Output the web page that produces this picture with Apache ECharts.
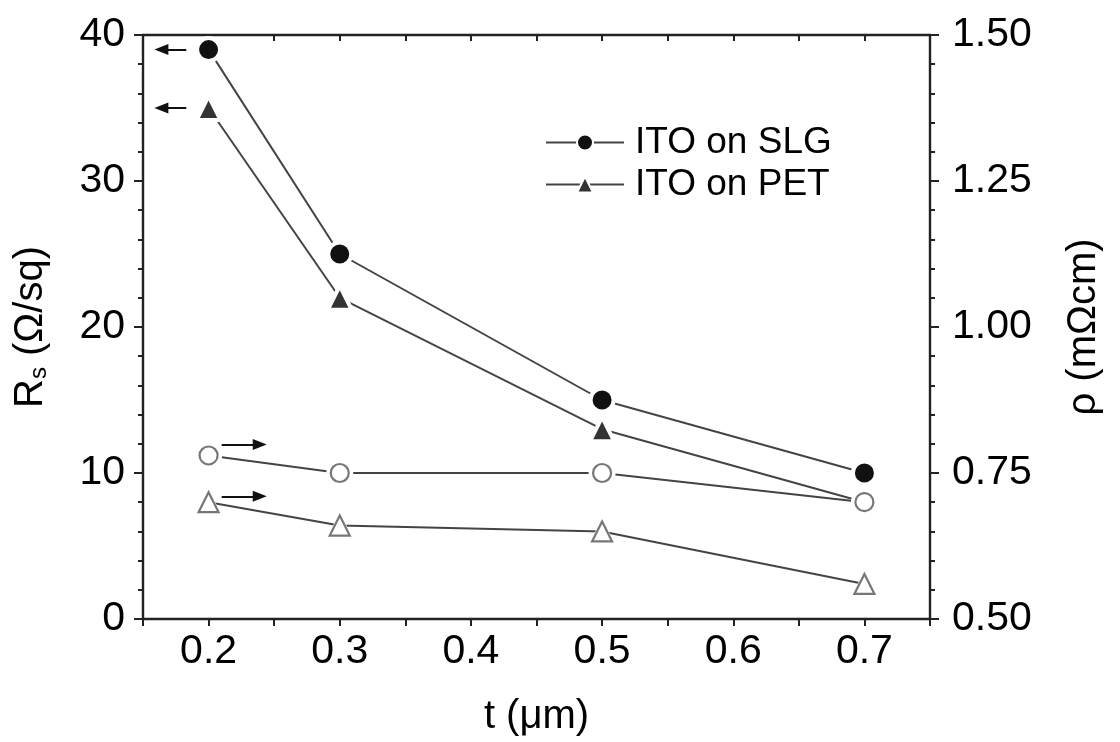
<!DOCTYPE html>
<html>
<head>
<meta charset="utf-8">
<script src="https://cdn.jsdelivr.net/npm/echarts@6/dist/echarts.min.js"></script>
<style>
html,body{margin:0;padding:0;background:#fff;}
#chart{width:1120px;height:742px;}
</style>
</head>
<body>
<div id="chart"></div>
<script>
// ---- data ----
const thickness = [0.2, 0.3, 0.5, 0.7];          // t (µm)
const rsSLG = [39, 25, 15, 10];                   // Rs, ITO on SLG (left axis)
const rsPET = [35, 22, 13, 8];                    // Rs, ITO on PET (left axis)
const rhoSLG = [0.78, 0.75, 0.75, 0.70];          // rho, ITO on SLG (right axis)
const rhoPET = [0.70, 0.66, 0.65, 0.56];          // rho, ITO on PET (right axis)
const seriesNames = ['ITO on SLG', 'ITO on PET'];
const xTickLabels = ['0.2', '0.3', '0.4', '0.5', '0.6', '0.7'];
const leftTickLabels = ['0', '10', '20', '30', '40'];
const rightTickLabels = ['0.50', '0.75', '1.00', '1.25', '1.50'];
// annotation arrows (data coordinates): [from, to]
const arrowLeft1 = [[0.183, 39], [0.164, 39]];
const arrowLeft2 = [[0.183, 35], [0.164, 35]];
const arrowRight1 = [[0.210, 0.799], [0.239, 0.799]];
const arrowRight2 = [[0.210, 0.71], [0.239, 0.71]];

const FONT = '"Liberation Sans", Arial, sans-serif';
const TXT = '#000';
const LINE = '#444';

function zip(xs, ys) { return xs.map((x, i) => [x, ys[i]]); }
function arrowLine(a) {
  return [{ coord: a[0], symbol: 'none' }, { coord: a[1], symbol: 'triangle' }];
}

const chart = echarts.init(document.getElementById('chart'), null, { renderer: 'canvas' });

const axisLineStyle = { color: '#222', width: 2.4 };
const tickStyle = { color: '#222', width: 2 };

function arrowMark(a) {
  return {
    silent: true, symbolSize: [11, 14],
    label: { show: false },
    lineStyle: { color: '#111', width: 2, type: 'solid' },
    data: [arrowLine(a)]
  };
}

const option = {
  animation: false,
  backgroundColor: '#fff',
  textStyle: { fontFamily: FONT, color: TXT },
  grid: { left: 143, right: 190, top: 35, bottom: 121 },
  legend: {
    data: seriesNames,
    orient: 'vertical',
    left: 540,
    top: 119,
    itemWidth: 78,
    itemHeight: 20,
    itemGap: 5,
    textStyle: { fontFamily: FONT, fontSize: 37, color: TXT, lineHeight: 36, padding: [0, 0, 0, 6] },
    selectedMode: false
  },
  xAxis: [{
    type: 'value',
    min: 0.15, max: 0.75, interval: 0.05,
    position: 'bottom',
    name: 't (μm)',
    nameLocation: 'middle',
    nameGap: 78,
    nameTextStyle: { fontFamily: FONT, fontSize: 40, color: TXT },
    axisLine: { show: true, lineStyle: axisLineStyle },
    axisTick: { show: true, inside: false, length: 7, lineStyle: tickStyle },
    axisLabel: {
      fontFamily: FONT, fontSize: 41, color: TXT, margin: 12,
      formatter: v => {
        const k = Math.round(v * 10 * 100) / 100;
        const s = v.toFixed(1);
        return (Math.abs(k - Math.round(k)) < 1e-6 && xTickLabels.includes(s)) ? s : '';
      }
    },
    splitLine: { show: false }
  }, {
    type: 'value',
    min: 0.15, max: 0.75, interval: 0.05,
    position: 'top',
    axisLine: { show: true, lineStyle: axisLineStyle },
    axisTick: { show: true, inside: true, length: 6, lineStyle: tickStyle },
    axisLabel: { show: false },
    splitLine: { show: false }
  }],
  yAxis: [{
    type: 'value',
    min: 0, max: 40, interval: 10,
    position: 'left',
    name: '{a|R}{s|s}{a| (Ω/sq)}',
    nameLocation: 'middle',
    nameRotate: 90,
    nameGap: 92,
    nameTextStyle: {
      fontFamily: FONT, fontSize: 40, color: TXT,
      rich: {
        a: { fontFamily: FONT, fontSize: 40, color: TXT },
        s: { fontFamily: FONT, fontSize: 24, color: TXT, verticalAlign: 'bottom', padding: [16, 0, 0, 0] }
      }
    },
    axisLine: { show: true, lineStyle: axisLineStyle },
    axisTick: { show: true, inside: false, length: 9, lineStyle: tickStyle },
    minorTick: { show: true, splitNumber: 5, length: 5, lineStyle: tickStyle },
    axisLabel: {
      fontFamily: FONT, fontSize: 41, color: TXT, margin: 18,
      formatter: v => leftTickLabels.includes(String(v)) ? String(v) : ''
    },
    splitLine: { show: false }
  }, {
    type: 'value',
    min: 0.5, max: 1.5, interval: 0.25,
    position: 'right',
    name: 'ρ (mΩcm)',
    nameLocation: 'middle',
    nameRotate: 90,
    nameGap: 134,
    nameTextStyle: { fontFamily: FONT, fontSize: 40, color: TXT },
    axisLine: { show: true, lineStyle: axisLineStyle },
    axisTick: { show: true, inside: false, length: 9, lineStyle: tickStyle },
    minorTick: { show: true, splitNumber: 5, length: 5, lineStyle: tickStyle },
    axisLabel: {
      fontFamily: FONT, fontSize: 41, color: TXT, margin: 22,
      formatter: v => rightTickLabels.includes(v.toFixed(2)) ? v.toFixed(2) : ''
    },
    splitLine: { show: false }
  }],
  series: [
    {
      name: seriesNames[0], type: 'line', xAxisIndex: 0, yAxisIndex: 0,
      data: zip(thickness, rsSLG),
      symbol: 'circle', symbolSize: 23,
      itemStyle: { color: '#111', borderColor: '#fff', borderWidth: 4 },
      lineStyle: { color: LINE, width: 2 },
      z: 3,
      markLine: arrowMark(arrowLeft1)
    },
    {
      name: seriesNames[1], type: 'line', xAxisIndex: 0, yAxisIndex: 0,
      data: zip(thickness, rsPET),
      symbol: 'triangle', symbolSize: 24,
      itemStyle: { color: '#333', borderColor: '#fff', borderWidth: 4 },
      lineStyle: { color: LINE, width: 2 },
      z: 3,
      markLine: arrowMark(arrowLeft2)
    },
    {
      name: 'rho SLG line', type: 'line', xAxisIndex: 0, yAxisIndex: 1,
      data: zip(thickness, rhoSLG),
      symbol: 'circle', symbolSize: 27,
      itemStyle: { color: '#fff', borderWidth: 0 },
      lineStyle: { color: LINE, width: 2 },
      z: 4,
      markLine: arrowMark(arrowRight1)
    },
    {
      name: 'rho PET line', type: 'line', xAxisIndex: 0, yAxisIndex: 1,
      data: zip(thickness, rhoPET),
      symbol: 'triangle', symbolSize: 27,
      itemStyle: { color: '#fff', borderWidth: 0 },
      lineStyle: { color: LINE, width: 2 },
      z: 4,
      markLine: arrowMark(arrowRight2)
    },
    {
      name: 'rho SLG', type: 'scatter', xAxisIndex: 0, yAxisIndex: 1,
      data: zip(thickness, rhoSLG),
      symbol: 'circle', symbolSize: 18,
      itemStyle: { color: '#fff', borderColor: '#555', borderWidth: 2.2 },
      z: 5
    },
    {
      name: 'rho PET', type: 'scatter', xAxisIndex: 0, yAxisIndex: 1,
      data: zip(thickness, rhoPET),
      symbol: 'triangle', symbolSize: 20,
      itemStyle: { color: '#fff', borderColor: '#555', borderWidth: 2.2 },
      z: 5
    }
  ]
};

chart.setOption(option);
</script>
</body>
</html>
